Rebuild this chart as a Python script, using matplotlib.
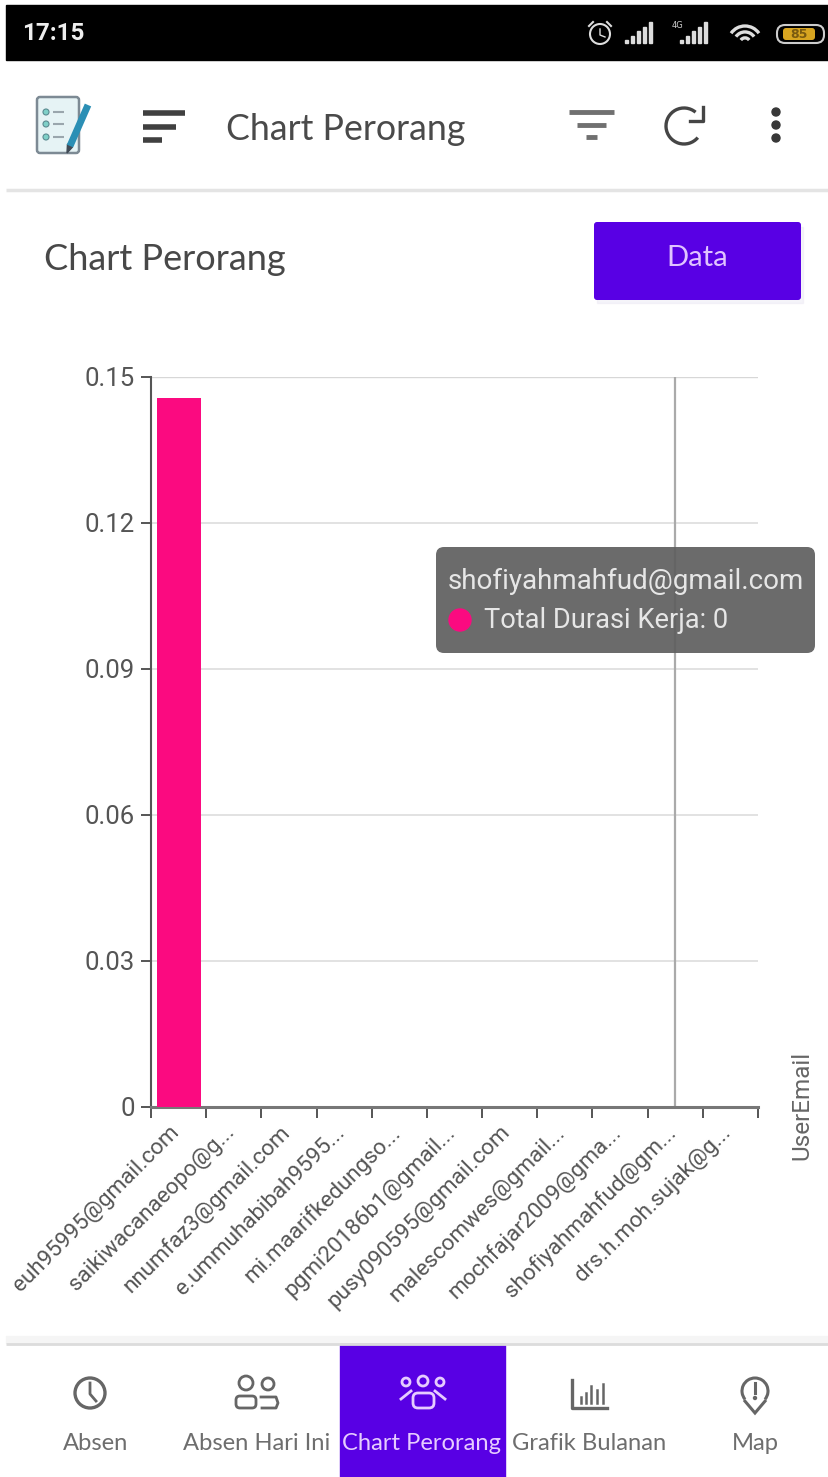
import matplotlib
matplotlib.use('Agg')
import numpy as np
import matplotlib.pyplot as plt
from matplotlib.patches import Rectangle, FancyBboxPatch, Circle, Arc, Polygon, Ellipse
from matplotlib.transforms import ScaledTranslation

# chart data
emails = ['euh95995@gmail.com', 'saikiwacanaeopo@g...', 'nnumfaz3@gmail.com',
          'e.ummuhabibah9595...', 'mi.maarifkedungso...', 'pgmi20186b1@gmail...',
          'pusy090595@gmail.com', 'malescomwes@gmail...', 'mochfajar2009@gma...',
          'shofiyahmahfud@gm...', 'drs.h.moh.sujak@g...']
durasi = [0.1457, 0, 0, 0, 0, 0, 0, 0, 0, 0, 0]
y_ticks = [0, 0.03, 0.06, 0.09, 0.12, 0.15]
y_tick_labels = ['0', '0.03', '0.06', '0.09', '0.12', '0.15']
nav_labels = ['Absen', 'Absen Hari Ini', 'Chart Perorang', 'Grafik Bulanan', 'Map']
nav_x = [96, 257, 422, 589, 755]

W, H = 829, 1477
PURPLE = '#5800e4'
GREY = '#5f5f5f'
BAR = '#fb0a80'

fig = plt.figure(figsize=(W / 100, H / 100), dpi=100, facecolor='white')

# background layer in pixel coordinates
bg = fig.add_axes([0, 0, 1, 1], zorder=0)
bg.set_xlim(0, W)
bg.set_ylim(H, 0)
bg.axis('off')


def hline(ax, x0, x1, y, lw=3, color=GREY):
    ax.plot([x0, x1], [y, y], color=color, lw=lw, solid_capstyle='butt')


# status bar
bg.add_patch(Rectangle((6, 5), W - 6, 55, color='black'))
bg.text(22, 33, '17:15', color='#eeeeee', fontsize=17.5, fontweight='bold',
        family='Roboto', va='center', ha='left')
bg.add_patch(Circle((600, 34), 10, fill=False, ec='#dddddd', lw=1.5))
bg.plot([600, 600, 605], [29, 35, 37], color='#dddddd', lw=1)
bg.plot([589, 593], [26, 22], color='#dddddd', lw=1.5)
bg.plot([611, 607], [26, 22], color='#dddddd', lw=1.5)
for base in (625, 680):
    for i in range(5):
        bh = 3 + i * 4.5
        bg.add_patch(Rectangle((base + i * 6, 43 - bh), 3.5, bh, color='#dddddd'))
bg.text(678, 26, '4G', color='#cccccc', fontsize=6, ha='center', va='center')
for r in (6, 13, 20):
    bg.add_patch(Arc((745, 43), r * 1.7, r * 1.7, theta1=215, theta2=325, ec='#dddddd', lw=2.4))
bg.add_patch(FancyBboxPatch((777, 25), 47, 18, boxstyle='round,pad=0,rounding_size=8',
                            fc='black', ec='#cccccc', lw=1.5))
bg.add_patch(FancyBboxPatch((783, 28), 32, 12, boxstyle='round,pad=0,rounding_size=3',
                            fc='#d8a520', ec='none'))
bg.text(799, 34, '85', color='#7a5a10', fontsize=9, ha='center', va='center', fontweight='bold')

# toolbar
bg.add_patch(FancyBboxPatch((37, 97), 42, 56, boxstyle='round,pad=0,rounding_size=3',
                            fc='#e6f3f5', ec='#7d8a94', lw=1.8))
for yy in (112, 124, 137):
    bg.add_patch(Circle((46, yy), 3, fc='#7fd0c8', ec='#5a8a90', lw=0.8))
    hline(bg, 53, 64, yy, lw=1.5, color='#9aa6ad')
bg.plot([70, 88], [146, 105], color='#2b8fb5', lw=5, solid_capstyle='butt')
bg.add_patch(Polygon([[67.5, 144], [72.5, 147], [67, 153]], color='#404a55'))
hline(bg, 143, 185, 113, lw=4, color='#404040')
hline(bg, 143, 176, 127, lw=4, color='#404040')
hline(bg, 143, 162, 140, lw=4, color='#404040')
bg.text(226, 129, 'Chart Perorang', color='#4a4a4a', fontsize=25.7, family='Lato',
        va='center', ha='left')
hline(bg, 569, 614, 112, lw=3.5, color='#707070')
hline(bg, 577, 606, 125, lw=3.5, color='#707070')
hline(bg, 586, 597, 137, lw=3.5, color='#707070')
bg.add_patch(Arc((684, 126), 36, 36, theta1=40, theta2=310, ec='#454545', lw=2.4))
bg.plot([703, 703, 690], [107, 121, 121], color='#454545', lw=2.4)
for yy in (112, 125, 138):
    bg.add_patch(Ellipse((776, yy), 8, 8, color='#383838'))
hline(bg, 6, W, 190, lw=2.5, color='#e4e4e4')

# page header
bg.text(44, 259, 'Chart Perorang', color='#484848', fontsize=26, family='Lato',
        va='center', ha='left')
bg.add_patch(Rectangle((597, 227), 206, 76, color='#e8e4f0', alpha=0.4))
bg.add_patch(FancyBboxPatch((594, 222), 207, 78, boxstyle='round,pad=0,rounding_size=3',
                            fc=PURPLE, ec='none'))
bg.text(697, 258, 'Data', color='#e0c4ff', fontsize=21, family='Lato', va='center', ha='center')

# bottom navigation
bg.add_patch(Rectangle((6, 1336), W - 6, 7, color='#f5f5f5'))
hline(bg, 6, W, 1343.5, lw=2, color='#dcdcdc')
bg.add_patch(Rectangle((340, 1344), 165, H - 1344, color=PURPLE))
for name, xx in zip(nav_labels, nav_x):
    col = '#e6ccff' if name == 'Chart Perorang' else '#6e6e6e'
    bg.text(xx, 1444, name, color=col, fontsize=17.1, family='Lato', ha='center', va='center')

ic = '#666666'
# clock
bg.add_patch(Circle((90, 1393), 15, fill=False, ec=ic, lw=2.4))
bg.plot([90, 90, 96], [1383, 1394, 1401], color=ic, lw=2)
# people
for cx, cy, r in ((246, 1383, 7), (268, 1384, 6)):
    bg.add_patch(Circle((cx, cy), r, fill=False, ec=ic, lw=2))
bg.add_patch(FancyBboxPatch((236, 1396), 20, 12, boxstyle='round,pad=0,rounding_size=4',
                            fill=False, ec=ic, lw=2))
bg.plot([261, 276, 278, 276, 262], [1397, 1397, 1403, 1408, 1408], color=ic, lw=2)
# group
for cx, cy, r in ((406, 1382, 4), (423, 1381, 5), (440, 1382, 4)):
    bg.add_patch(Circle((cx, cy), r, fill=False, ec='#e6ccff', lw=2))
bg.add_patch(FancyBboxPatch((413, 1393), 21, 15, boxstyle='round,pad=0,rounding_size=5',
                            fill=False, ec='#e6ccff', lw=2))
bg.plot([401, 411], [1399, 1391], color='#e6ccff', lw=2)
bg.plot([445, 435], [1399, 1391], color='#e6ccff', lw=2)
# bar chart
bg.plot([572, 572, 607], [1380, 1408, 1408], color=ic, lw=2.4)
for xx, top in ((581, 1397), (586, 1393), (591, 1386), (597, 1390), (603, 1384)):
    bg.plot([xx, xx], [top, 1403], color=ic, lw=1.8)
# map pin
bg.add_patch(Polygon([[744, 1400], [755, 1413], [766, 1400]], closed=False, fill=False, ec=ic, lw=2.2))
bg.add_patch(Arc((755, 1391), 26, 26, theta1=140, theta2=40, ec=ic, lw=2.2))
bg.plot([755, 755], [1383, 1393], color=ic, lw=2.2)
bg.add_patch(Circle((755, 1398), 1.5, color=ic))

# the chart itself
ax = fig.add_axes([151 / W, 1 - 1107 / H, (758 - 151) / W, (1107 - 377) / H], zorder=1)
ax.patch.set_alpha(0)
x = np.arange(len(emails))
ax.bar(x, durasi, width=0.8, color=BAR, zorder=3)
ax.set_xlim(-0.5, len(emails) - 0.5)
ax.set_ylim(0, 0.15)

ax.set_yticks(y_ticks)
ax.set_yticklabels(y_tick_labels, family='Roboto', fontsize=18.5, color='#555555')
ax.tick_params(axis='y', length=7, width=1.4, color='#555555', pad=4.5)
ax.grid(axis='y', color='#dddddd', lw=1.2, zorder=0)
ax.axhline(0.15, color='#bdbdbd', lw=1.6, zorder=1)

# ticks sit on the band edges, labels on the band centres
ax.set_xticks(np.arange(len(emails) + 1) - 0.5)
ax.set_xticklabels([])
ax.set_xticks(x, minor=True)
ax.set_xticklabels(emails, minor=True, rotation=45, ha='right', va='top',
                   rotation_mode='anchor', family='Roboto', fontsize=16.2, color='#555555')
ax.tick_params(axis='x', which='major', length=8, width=1.4, color='#555555')
ax.tick_params(axis='x', which='minor', length=0, pad=12)
# slide the rotated labels a little to the left of the band centre
offset = ScaledTranslation(-10 / 100, 2 / 100, fig.dpi_scale_trans)
for lab in ax.get_xticklabels(minor=True):
    lab.set_transform(lab.get_transform() + offset)

for side in ('top', 'right'):
    ax.spines[side].set_visible(False)
ax.spines['left'].set_color('#555555')
ax.spines['left'].set_linewidth(1.5)
ax.spines['bottom'].set_color('#777777')
ax.spines['bottom'].set_linewidth(2.2)

# crosshair on the hovered category
ax.axvline(emails.index('shofiyahmahfud@gm...'), color='#aaaaaa', lw=1.6, zorder=2)

# foreground layer: tooltip and axis name
fg = fig.add_axes([0, 0, 1, 1], zorder=2)
fg.set_xlim(0, W)
fg.set_ylim(H, 0)
fg.axis('off')
fg.patch.set_alpha(0)
fg.text(802, 1105, 'UserEmail', rotation=90, color='#666666', family='Roboto',
        fontsize=17.5, ha='center', va='center')
fg.add_patch(FancyBboxPatch((436, 547), 379, 106, boxstyle='round,pad=0,rounding_size=8',
                            fc='#5e5e5e', ec='none', alpha=0.92))
fg.text(448, 581, 'shofiyahmahfud@gmail.com', color='#e6e6e6', family='Roboto',
        fontsize=20, va='center', ha='left')
fg.add_patch(Circle((460, 620), 11, color=BAR))
fg.text(484, 621, 'Total Durasi Kerja: 0', color='#e6e6e6', family='Roboto',
        fontsize=19.6, va='center', ha='left')

fig.savefig('out.png', dpi=100)
